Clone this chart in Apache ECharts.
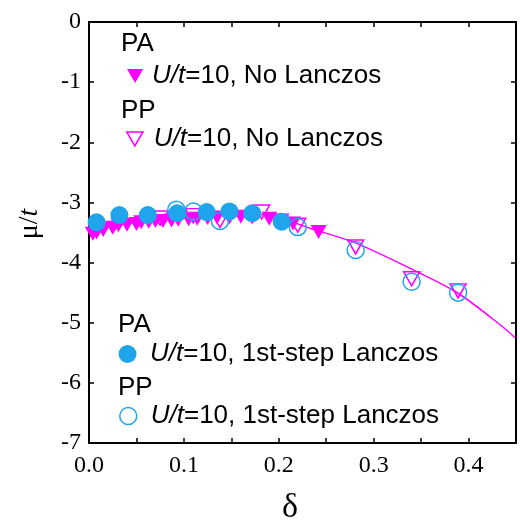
<!DOCTYPE html>
<html>
<head>
<meta charset="utf-8">
<script src="https://cdn.jsdelivr.net/npm/echarts@6/dist/echarts.min.js"></script>
<style>html,body{margin:0;padding:0;background:#fff;}#c{width:520px;height:526px;}</style>
</head>
<body>
<div id="c"></div>
<script>
// ---- data ----
const paNoLanczosDelta = [0.004, 0.008, 0.015, 0.025, 0.031, 0.040, 0.050, 0.055, 0.063, 0.070, 0.078, 0.087, 0.094, 0.105, 0.114, 0.125, 0.135, 0.148, 0.160, 0.172, 0.190, 0.203, 0.215, 0.242];
const paNoLanczosMu    = [-3.52, -3.50, -3.46, -3.42, -3.38, -3.37, -3.36, -3.33, -3.32, -3.31, -3.31, -3.30, -3.29, -3.28, -3.27, -3.26, -3.25, -3.25, -3.24, -3.25, -3.27, -3.30, -3.35, -3.49];

const ppNoLanczosDelta = [0.075, 0.110, 0.138, 0.182, 0.220, 0.281, 0.340, 0.389];
const ppNoLanczosMu    = [-3.26, -3.22, -3.30, -3.16, -3.38, -3.74, -4.27, -4.47];

const paLanczosDelta = [0.008, 0.032, 0.062, 0.093, 0.124, 0.148, 0.172, 0.203];
const paLanczosMu    = [-3.33, -3.21, -3.21, -3.18, -3.16, -3.15, -3.18, -3.32];

const ppLanczosDelta = [0.092, 0.110, 0.138, 0.220, 0.281, 0.340, 0.389];
const ppLanczosMu    = [-3.12, -3.15, -3.31, -3.41, -3.79, -4.32, -4.50];

const fitDelta = [0.0, 0.03, 0.06, 0.10, 0.15, 0.18, 0.20, 0.233, 0.282, 0.348, 0.389, 0.433, 0.449];
const fitMu    = [-3.47, -3.37, -3.30, -3.24, -3.19, -3.20, -3.25, -3.43, -3.68, -4.17, -4.51, -5.03, -5.25];

const xTickValues = ['0.0', '0.1', '0.2', '0.3', '0.4'];
const yTickValues = [0, -1, -2, -3, -4, -5, -6, -7];

// ---- build ----
const pair = (xs, ys) => xs.map((x, i) => [x, ys[i]]);
const MAG = '#ff00ff';
const BLUE = '#1fa5eb';
const SANS = 'Liberation Sans';
const SERIF = 'Liberation Serif';

const legendRich = {
  i: { fontFamily: SANS, fontSize: 26, fontStyle: 'italic', color: '#000', lineHeight: 28 },
  n: { fontFamily: SANS, fontSize: 26, color: '#000', lineHeight: 28 }
};
const legendLabels = {
  'PA No Lanczos': '{i|U/t}{n|=10, No Lanczos}',
  'PP No Lanczos': '{i|U/t}{n|=10, No Lanczos}',
  'PA 1st-step Lanczos': '{i|U/t}{n|=10, 1st-step Lanczos}',
  'PP 1st-step Lanczos': '{i|U/t}{n|=10, 1st-step Lanczos}'
};
function mkLegend(name, left, centerY, itemW, itemH, icon, itemStyle) {
  return {
    show: true, orient: 'horizontal', left: left, top: centerY - 14, padding: 0,
    itemWidth: itemW, itemHeight: itemH, selectedMode: false, symbolKeepAspect: true,
    data: [{ name: name, icon: icon, itemStyle: itemStyle }],
    formatter: n => legendLabels[n],
    textStyle: { fontFamily: SANS, fontSize: 26, color: '#000', rich: legendRich }
  };
}

const axisLineStyle = { color: '#000', width: 2 };
const tickStyle = { color: '#000', width: 1.5 };

const chart = echarts.init(document.getElementById('c'), null, { renderer: 'canvas' });
chart.setOption({
  animation: false,
  backgroundColor: '#fff',
  grid: { left: 89, top: 22, right: 4, bottom: 83, containLabel: false },
  xAxis: [
    {
      type: 'value', min: 0, max: 0.45, interval: 0.05, position: 'bottom',
      axisLine: { onZero: false, lineStyle: axisLineStyle },
      axisTick: { inside: true, length: 5, lineStyle: tickStyle },
      splitLine: { show: false },
      axisLabel: {
        margin: 11, fontFamily: SERIF, fontSize: 24, color: '#000',
        formatter: v => { const k = Math.round(v * 100); return (k % 10 === 0) ? xTickValues[k / 10] || '' : ''; }
      }
    },
    {
      type: 'value', min: 0, max: 0.45, interval: 0.05, position: 'top',
      axisLine: { onZero: false, lineStyle: axisLineStyle },
      axisTick: { inside: true, length: 5, lineStyle: tickStyle },
      splitLine: { show: false }, axisLabel: { show: false }
    }
  ],
  yAxis: [
    {
      type: 'value', min: -7, max: 0, interval: 1, position: 'left',
      axisLine: { onZero: false, lineStyle: axisLineStyle },
      axisTick: { inside: true, length: 5, lineStyle: tickStyle },
      splitLine: { show: false },
      axisLabel: {
        margin: 8, fontFamily: SERIF, fontSize: 24, color: '#000',
        formatter: v => yTickValues.includes(Math.round(v)) ? String(Math.round(v)) : ''
      }
    },
    {
      type: 'value', min: -7, max: 0, interval: 1, position: 'right',
      axisLine: { onZero: false, lineStyle: axisLineStyle },
      axisTick: { inside: true, length: 5, lineStyle: tickStyle },
      splitLine: { show: false }, axisLabel: { show: false }
    }
  ],
  legend: [
    mkLegend('PA No Lanczos', 127, 77, 24, 14, 'path://M0,0L20,0L10,17.32Z', { color: MAG, borderWidth: 0, opacity: 1 }),
    mkLegend('PP No Lanczos', 126, 140, 28, 14, 'path://M0,0L20,0L10,17.32Z', { color: 'rgba(0,0,0,0)', borderColor: MAG, borderWidth: 1.5, opacity: 1 }),
    mkLegend('PA 1st-step Lanczos', 118.5, 355, 35, 18, 'circle', { color: BLUE, borderWidth: 0, opacity: 1 }),
    mkLegend('PP 1st-step Lanczos', 119, 417, 35, 17, 'circle', { color: 'rgba(0,0,0,0)', borderColor: BLUE, borderWidth: 1.5, opacity: 1 })
  ],
  graphic: [
    { type: 'text', left: 121, top: 31, style: { text: 'PA', fontFamily: SANS, fontSize: 26, fill: '#000' } },
    { type: 'text', left: 121, top: 98, style: { text: 'PP', fontFamily: SANS, fontSize: 26, fill: '#000' } },
    { type: 'text', left: 118, top: 312, style: { text: 'PA', fontFamily: SANS, fontSize: 26, fill: '#000' } },
    { type: 'text', left: 118, top: 375, style: { text: 'PP', fontFamily: SANS, fontSize: 26, fill: '#000' } },
    { type: 'text', x: 290, y: 508, style: { text: 'δ', fontFamily: SERIF, fontSize: 34, fill: '#000', align: 'center', verticalAlign: 'middle' } },
    {
      type: 'text', x: 30, y: 224, rotation: Math.PI / 2,
      style: {
        text: '{m|μ}{s|/}{t|t}', align: 'center', verticalAlign: 'middle',
        rich: {
          m: { fontFamily: SERIF, fontSize: 28, fill: '#000' },
          s: { fontFamily: SERIF, fontSize: 28, fill: '#000' },
          t: { fontFamily: SERIF, fontSize: 28, fontStyle: 'italic', fill: '#000' }
        }
      }
    }
  ],
  series: [
    {
      name: 'fit', type: 'line', data: pair(fitDelta, fitMu), smooth: 0.3,
      showSymbol: false, symbol: 'none', lineStyle: { color: MAG, width: 1.5 }, z: 1, silent: true
    },
    {
      name: 'PP No Lanczos', type: 'scatter', data: pair(ppNoLanczosDelta, ppNoLanczosMu),
      symbol: 'triangle', symbolRotate: 180, symbolSize: [16, 14],
      itemStyle: { color: 'rgba(0,0,0,0)', borderColor: MAG, borderWidth: 1.5, opacity: 1 }, z: 2
    },
    {
      name: 'PA No Lanczos', type: 'scatter', data: pair(paNoLanczosDelta, paNoLanczosMu),
      symbol: 'triangle', symbolRotate: 180, symbolSize: [16, 14],
      itemStyle: { color: MAG, opacity: 1 }, z: 3
    },
    {
      name: 'PA 1st-step Lanczos', type: 'scatter', data: pair(paLanczosDelta, paLanczosMu),
      symbol: 'circle', symbolSize: 18,
      itemStyle: { color: BLUE, opacity: 1 }, z: 4
    },
    {
      name: 'PP 1st-step Lanczos', type: 'scatter', data: pair(ppLanczosDelta, ppLanczosMu),
      symbol: 'circle', symbolSize: 17,
      itemStyle: { color: 'rgba(0,0,0,0)', borderColor: BLUE, borderWidth: 1.5, opacity: 1 }, z: 5
    }
  ]
});
</script>
</body>
</html>
